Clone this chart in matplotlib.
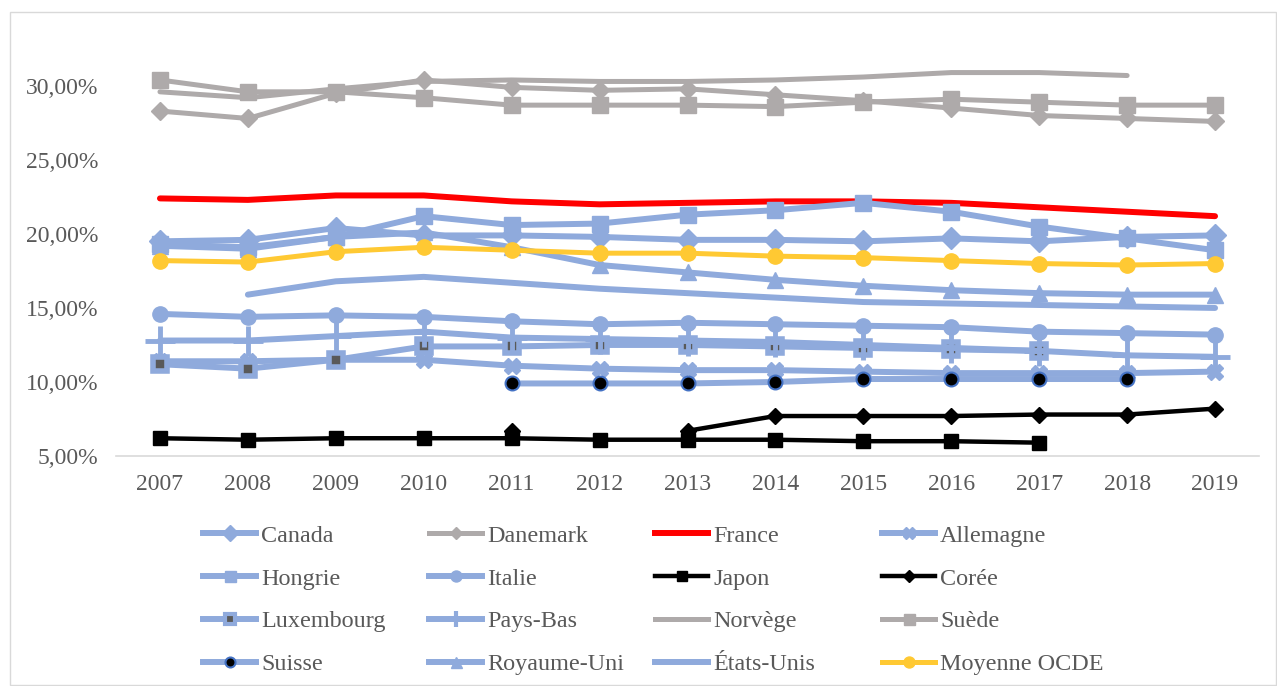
import numpy as np
import matplotlib.pyplot as plt
from matplotlib.lines import Line2D
from matplotlib.patches import Rectangle
from matplotlib.ticker import FuncFormatter

nan = np.nan
annees = list(range(2007, 2020))

canada = [19.5, 19.6, 20.4, 19.9, 19.9, 19.8, 19.6, 19.6, 19.5, 19.7, 19.5, 19.8, 19.9]
danemark = [28.3, 27.8, 29.5, 30.4, 29.9, 29.7, 29.8, 29.4, 29.0, 28.5, 28.0, 27.8, 27.6]
france = [22.4, 22.3, 22.6, 22.6, 22.2, 22.0, 22.1, 22.2, 22.2, 22.1, 21.8, 21.5, 21.2]
allemagne = [11.4, 11.4, 11.5, 11.5, 11.1, 10.9, 10.8, 10.8, 10.7, 10.6, 10.6, 10.6, 10.7]
hongrie = [19.3, 19.1, 19.8, 21.2, 20.6, 20.7, 21.3, 21.6, 22.1, 21.5, 20.5, 19.7, 18.9]
italie = [14.6, 14.4, 14.5, 14.4, 14.1, 13.9, 14.0, 13.9, 13.8, 13.7, 13.4, 13.3, 13.2]
japon = [6.2, 6.1, 6.2, 6.2, 6.2, 6.1, 6.1, 6.1, 6.0, 6.0, 5.9, nan, nan]
coree = [nan, nan, nan, nan, 6.7, nan, 6.7, 7.7, 7.7, 7.7, 7.8, 7.8, 8.2]
luxembourg = [11.2, 10.9, 11.5, 12.4, 12.4, 12.5, 12.5, 12.4, 12.3, 12.2, 12.1, nan, nan]
pays_bas = [12.8, 12.8, 13.1, 13.4, 13.0, 12.9, 12.8, 12.7, 12.5, 12.3, 12.1, 11.8, 11.7]
norvege = [29.6, 29.2, 29.8, 30.3, 30.4, 30.3, 30.3, 30.4, 30.6, 30.9, 30.9, 30.7, nan]
suede = [30.4, 29.6, 29.6, 29.2, 28.7, 28.7, 28.7, 28.6, 28.9, 29.1, 28.9, 28.7, 28.7]
suisse = [nan, nan, nan, nan, 9.9, 9.9, 9.9, 10.0, 10.2, 10.2, 10.2, 10.2, nan]
royaume_uni = [19.2, 19.0, 19.8, 20.1, 19.1, 17.9, 17.4, 16.9, 16.5, 16.2, 16.0, 15.9, 15.9]
etats_unis = [nan, 15.9, 16.8, 17.1, 16.7, 16.3, 16.0, 15.7, 15.4, 15.3, 15.2, 15.1, 15.0]
moyenne_ocde = [18.2, 18.1, 18.8, 19.1, 18.9, 18.7, 18.7, 18.5, 18.4, 18.2, 18.0, 17.9, 18.0]

bleu = '#8FAADC'
gris = '#AEAAAA'
rouge = '#FF0000'
noir = '#000000'
jaune = '#FFC933'
texte = '#595959'

# (nom, valeurs, style)
series = [
    ('Canada', canada, dict(color=bleu, lw=4.3, marker='D', ms=11)),
    ('Danemark', danemark, dict(color=gris, lw=3.6, marker='D', ms=9)),
    ('France', france, dict(color=rouge, lw=4.3)),
    ('Allemagne', allemagne, dict(color=bleu, lw=4.3, marker='X', ms=12)),
    ('Hongrie', hongrie, dict(color=bleu, lw=4.3, marker='s', ms=11)),
    ('Italie', italie, dict(color=bleu, lw=4.3, marker='o', ms=11)),
    ('Japon', japon, dict(color=noir, lw=3.2, marker='s', ms=10)),
    ('Corée', coree, dict(color=noir, lw=3.2, marker='D', ms=8)),
    ('Luxembourg', luxembourg, dict(color=bleu, lw=4.3, marker='s', ms=10,
                                    mfc=texte, mec=bleu, mew=4)),
    ('Pays-Bas', pays_bas, dict(color=bleu, lw=4.3, marker='+', ms=22, mew=3.5)),
    ('Norvège', norvege, dict(color=gris, lw=3.6)),
    ('Suède', suede, dict(color=gris, lw=3.6, marker='s', ms=11)),
    ('Suisse', suisse, dict(color=bleu, lw=4.3, marker='o', ms=10,
                            mfc=noir, mec='#4472C4', mew=1.5)),
    ('Royaume-Uni', royaume_uni, dict(color=bleu, lw=4.3, marker='^', ms=11)),
    ('États-Unis', etats_unis, dict(color=bleu, lw=4.3)),
    ('Moyenne OCDE', moyenne_ocde, dict(color=jaune, lw=3.6, marker='o', ms=11)),
]

plt.rcParams['font.family'] = ['Liberation Serif', 'DejaVu Serif']

fig = plt.figure(figsize=(12.77, 6.86), dpi=100)
fig.patches.append(Rectangle((10 / 1277, 0.002), 1 - 11 / 1277, 1 - 12 / 686 - 0.002,
                             transform=fig.transFigure, fill=False,
                             ec='#D9D9D9', lw=1))
ax = fig.add_axes([116 / 1277, 1 - 456 / 686, (1259 - 116) / 1277, (456 - 40) / 686])

x = np.arange(len(annees))
for nom, vals, style in series:
    ax.plot(x, vals, solid_capstyle='round', solid_joinstyle='round', **style)

ax.set_xlim(-0.5, len(annees) - 0.5)
ax.set_ylim(5, 33.1)
ax.set_yticks([5, 10, 15, 20, 25, 30])
ax.yaxis.set_major_formatter(FuncFormatter(lambda v, p: f'{v:.2f}%'.replace('.', ',')))
ax.set_xticks(x)
ax.set_xticklabels([str(a) for a in annees])
ax.tick_params(axis='both', length=0, labelsize=17, colors=texte)
ax.tick_params(axis='x', pad=13)
ax.tick_params(axis='y', pad=13)
for s in ['top', 'right', 'left']:
    ax.spines[s].set_visible(False)
ax.spines['bottom'].set_color('#D9D9D9')
ax.spines['bottom'].set_linewidth(1.2)

# legende : 4 colonnes de largeur fixe, remplies ligne par ligne
col_x = [203, 429, 655, 882]
for c in range(4):
    handles = []
    labels = []
    for nom, vals, style in series[c::4]:
        st = dict(style)
        if 'ms' in st:
            st['ms'] = st['ms'] * 0.72
        if st.get('marker') == '+':
            st['ms'] = 12
            st['mew'] = 3
        if nom == 'Luxembourg':
            st['mew'] = 3
        handles.append(Line2D([], [], **st))
        labels.append(nom)
    fig.legend(handles, labels, loc='upper left',
               bbox_to_anchor=(col_x[c] / 1277, 1 - 525 / 686),
               frameon=False, fontsize=17.4, labelcolor=texte,
               handlelength=2.2, handletextpad=0.2, borderpad=0,
               borderaxespad=0, labelspacing=0.86)

fig.savefig('out.png', dpi=100)
